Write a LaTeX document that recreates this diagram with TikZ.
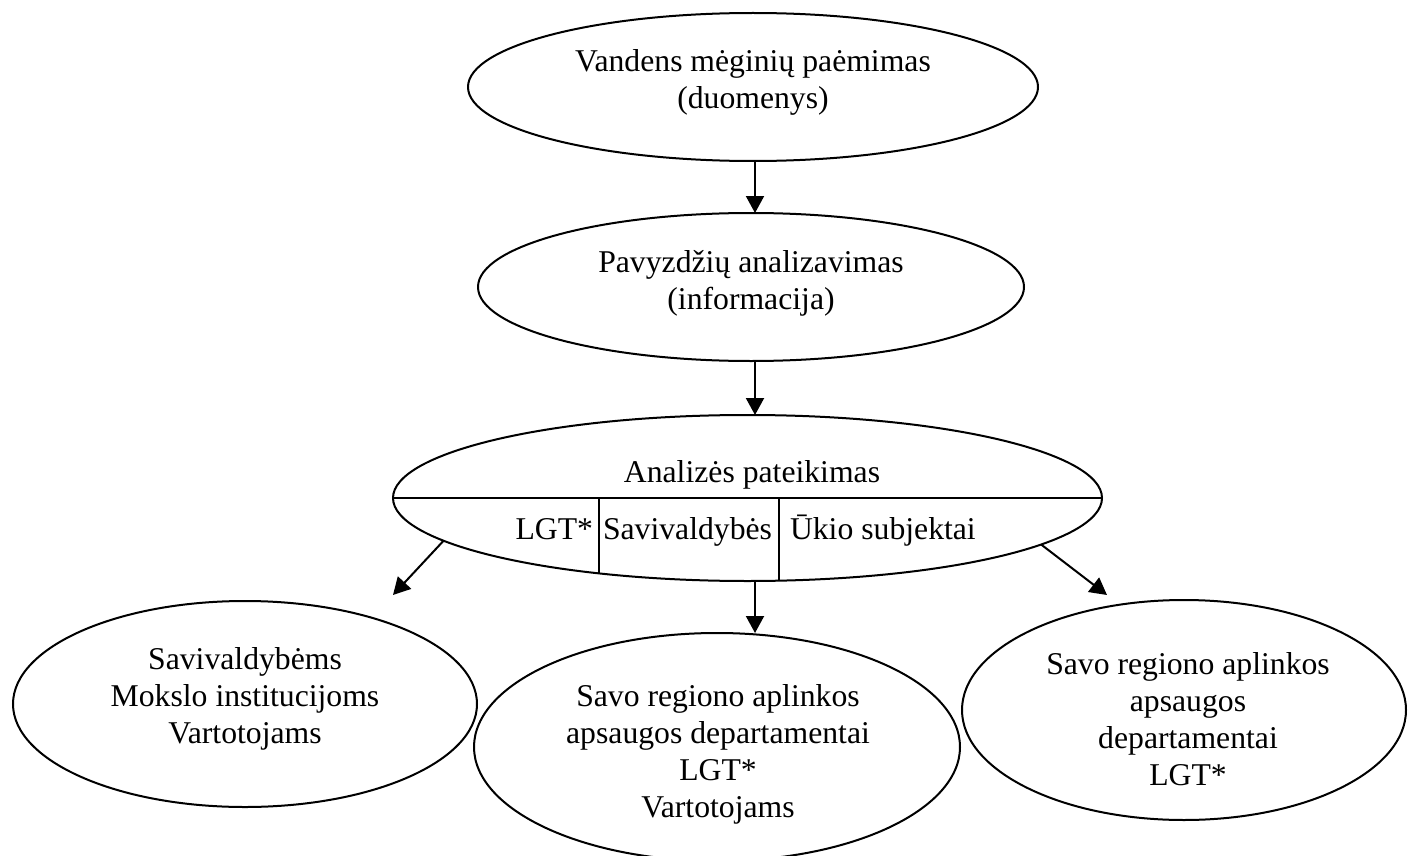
\documentclass[tikz,border=0pt]{standalone}
\usepackage{fontspec}
\setmainfont{Liberation Serif}
\usetikzlibrary{shapes.geometric,arrows.meta}
\tikzset{
  oval/.style={draw,line width=2pt,shape=ellipse,inner sep=0pt,outer sep=0pt},
  lbl/.style={inner sep=0pt,outer sep=0pt,align=center,anchor=base,font=\fontsize{31.7}{37}\selectfont},
  arr/.style={line width=2pt,-{Triangle[length=17pt,width=18pt]}},
  divider/.style={line width=2pt}
}
\begin{document}
\begin{tikzpicture}[x=1pt,y=-1pt]
\clip (0,0) rectangle (1408,856);
\fill[white] (0,0) rectangle (1408,856);
% ellipses
\node[oval,minimum width=570pt,minimum height=148pt] (e1) at (753,87) {};
\node[oval,minimum width=546pt,minimum height=148pt] (e2) at (751,287) {};
\node[oval,minimum width=709pt,minimum height=166pt] (e3) at (747.5,498) {};
\node[oval,minimum width=464pt,minimum height=206pt] (e4) at (245,704) {};
\node[oval,minimum width=486pt,minimum height=228pt] (e5) at (717,747) {};
\node[oval,minimum width=444pt,minimum height=220pt] (e6) at (1184,710) {};
% dividers inside e3
\begin{scope}
  \clip (e3.center) ellipse [x radius=354.5, y radius=83];
  \draw[divider] (e3.west) -- (e3.east);
  \coordinate (d1) at (599,498);
  \coordinate (d2) at (778.5,498);
  \draw[divider] (d1) -- (d1 |- e3.south);
  \draw[divider] (d2) -- (d2 |- e3.south);
\end{scope}
% texts (base anchor = baseline of the last line)
\node[lbl] (t1) at (753,109) {Vandens mėginių paėmimas\\(duomenys)};
\node[lbl] (t2) at (751,309) {Pavyzdžių analizavimas\\(informacija)};
\node[lbl] (t3) at (752,482) {Analizės pateikimas};
\node[lbl,anchor=base east] (t3a) at (593,539) {LGT*};
\node[lbl,anchor=base west] (t3b) at (603,539) {Savivaldybės};
\node[lbl,anchor=base west] (t3c) at (790,539) {Ūkio subjektai};
\node[lbl] (t4) at (245,743) {Savivaldybėms\\Mokslo institucijoms\\Vartotojams};
\node[lbl] (t5) at (718,817) {Savo regiono aplinkos\\apsaugos departamentai\\LGT*\\Vartotojams};
\node[lbl] (t6) at (1188,785) {Savo regiono aplinkos\\apsaugos\\departamentai\\LGT*};
% connectors
\coordinate (ax) at (755,0);
\coordinate (cL) at (393,595);
\coordinate (cR) at (1107,595);
\draw[arr] (e1.south -| ax) -- (e2.north -| ax);
\draw[arr] (e2.south -| ax) -- (e3.north -| ax);
\draw[arr] (e3.south -| ax) -- (e5.north -| ax);
\draw[arr] (e3.188.5) -- (cL);
\draw[arr] (e3.351.3) -- (cR);
\end{tikzpicture}
\end{document}
